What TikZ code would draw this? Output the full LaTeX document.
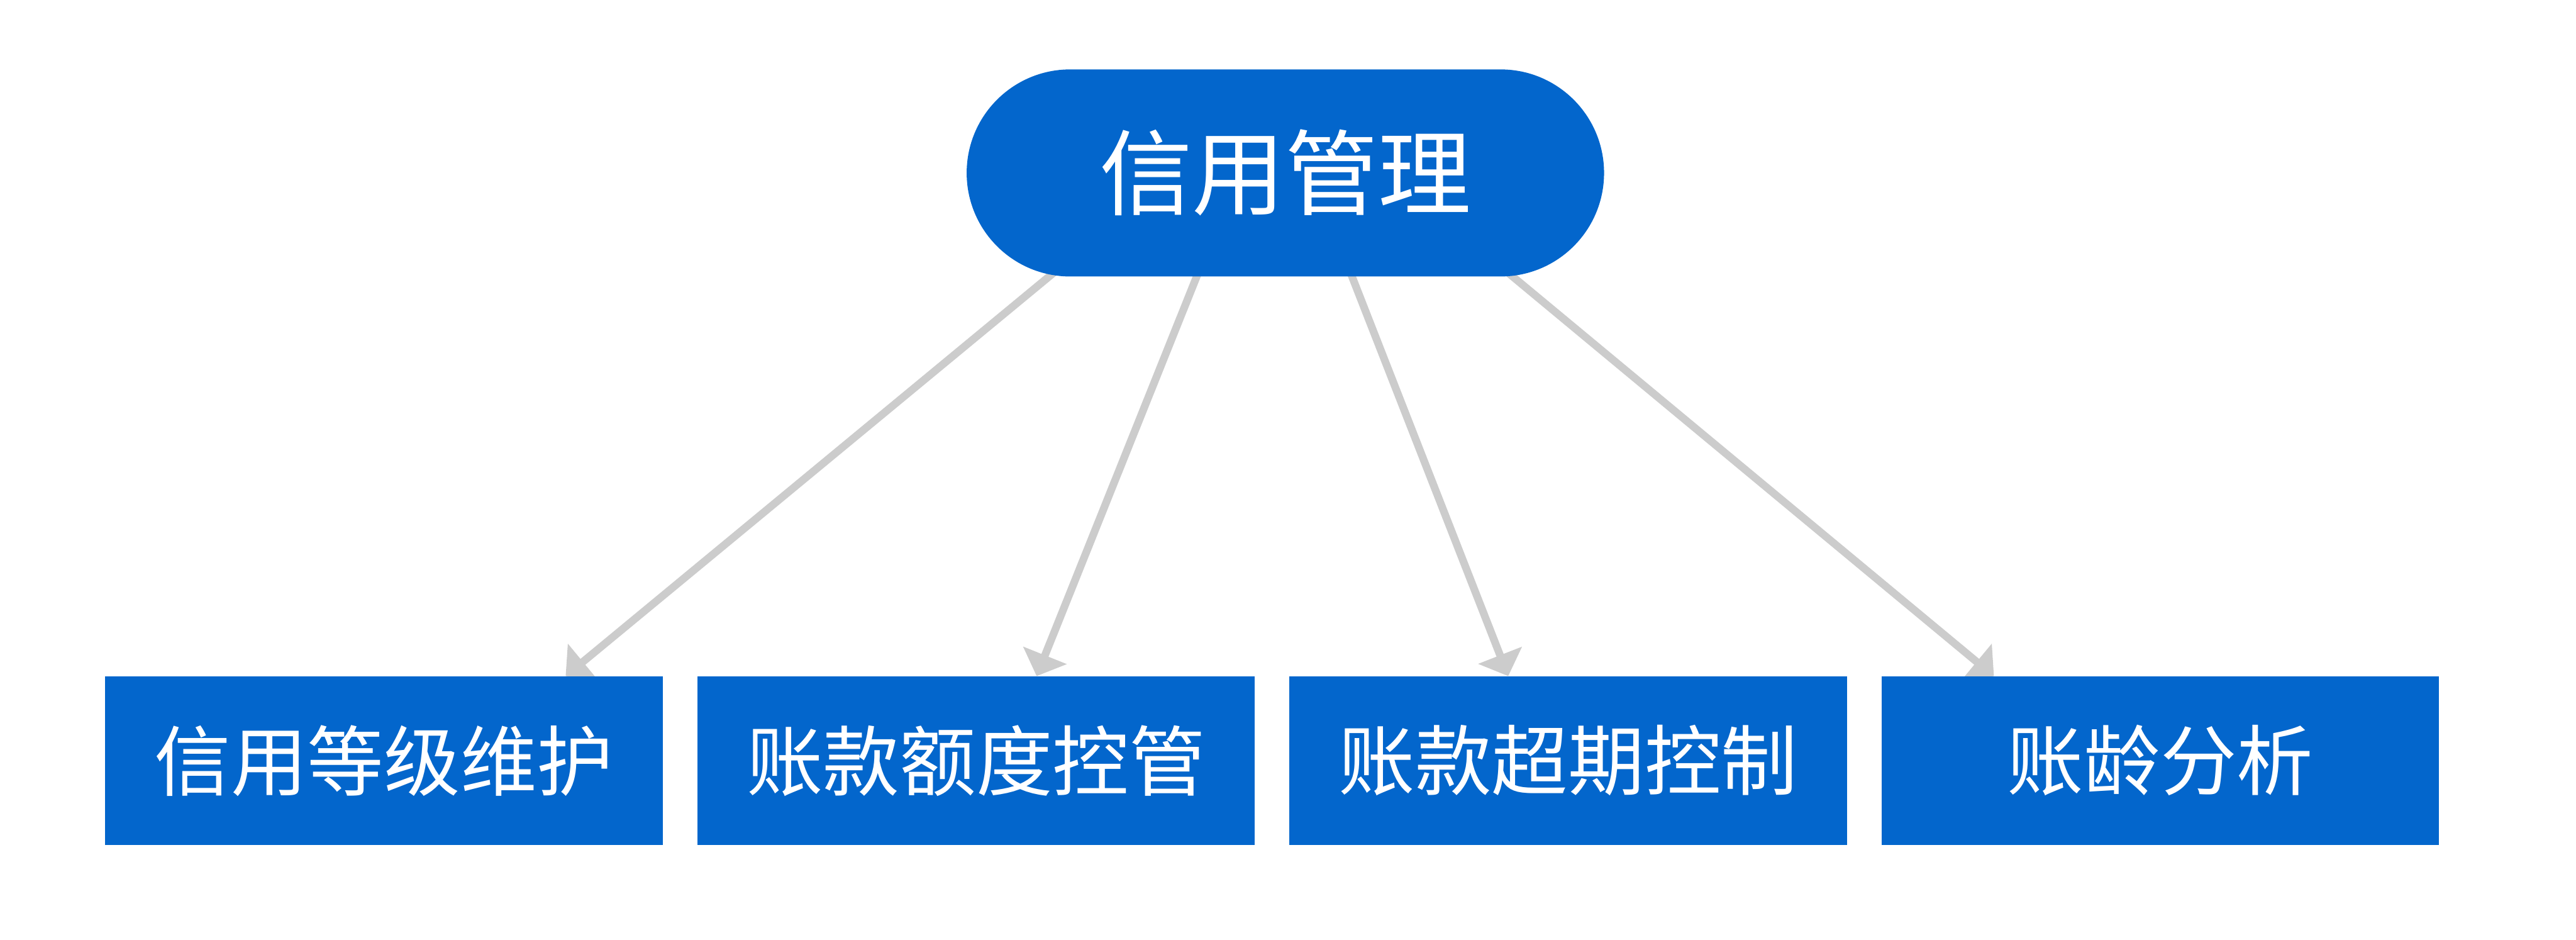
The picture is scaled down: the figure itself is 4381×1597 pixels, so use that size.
\documentclass[tikz,border=0pt]{standalone}
\usepackage{fontspec}
\newfontfamily\cjk{Noto Sans CJK SC}
\usetikzlibrary{arrows.meta,backgrounds}
\definecolor{mblue}{RGB}{3,102,204}
\definecolor{agray}{RGB}{204,204,204}
\begin{document}
\begin{tikzpicture}[x=0.1mm,y=-0.1mm,
  topbox/.style={fill=mblue,draw=none,rounded corners=17.6mm,minimum width=108.4mm,minimum height=35.2mm,inner sep=0pt,text=white,font=\cjk\fontsize{45pt}{52pt}\selectfont},
  leafbox/.style={fill=mblue,draw=none,minimum width=94.8mm,minimum height=28.6mm,inner sep=0pt,text=white,font=\cjk\fontsize{37pt}{44pt}\selectfont},
  conn/.style={draw=agray,line width=1.3mm,-{Triangle[length=3.8mm,width=7.8mm]}}]
\useasboundingbox (0,0) rectangle (4381,1597);
\node[topbox] (top) at (2186,294) {信用管理};
\node[leafbox] (b1) at (653,1293) {信用等级维护};
\node[leafbox] (b2) at (1660,1293) {账款额度控管};
\node[leafbox] (b3) at (2667,1293) {账款超期控制};
\node[leafbox] (b4) at (3674,1293) {账龄分析};
\begin{pgfonlayer}{background}
\fill[white] (0,0) rectangle (4381,1597);
\draw[conn] ([xshift=-34.2mm,yshift=5mm]top.south) -- ([xshift=30.9mm]b1.north);
\draw[conn] ([xshift=-13.1mm,yshift=5mm]top.south) -- ([xshift=10.3mm]b2.north);
\draw[conn] ([xshift=9.4mm,yshift=5mm]top.south) -- ([xshift=-10.2mm]b3.north);
\draw[conn] ([xshift=32.7mm,yshift=5mm]top.south) -- ([xshift=-28.3mm]b4.north);
\end{pgfonlayer}
\end{tikzpicture}
\end{document}
